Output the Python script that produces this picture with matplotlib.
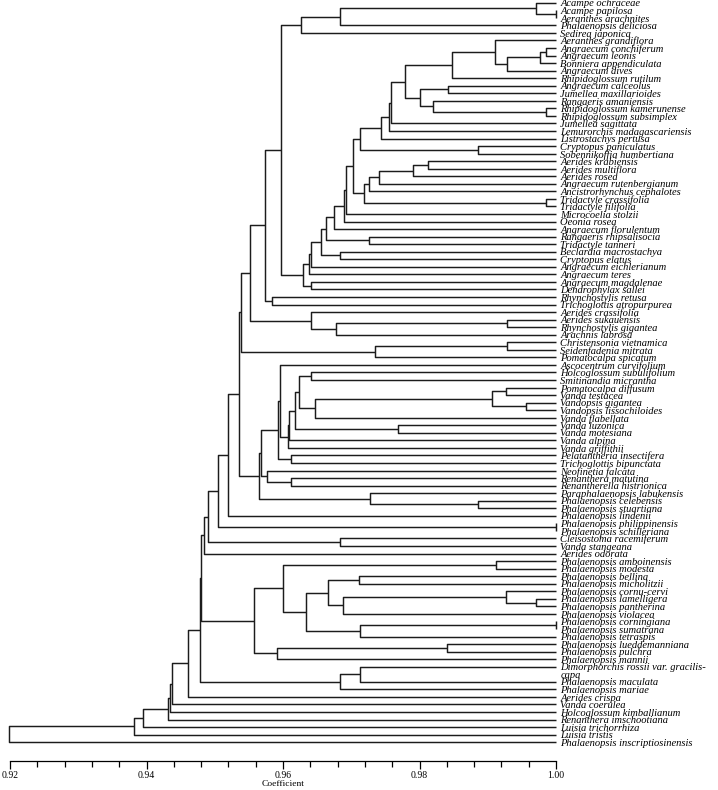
import matplotlib
matplotlib.use('Agg')
import matplotlib.pyplot as plt
import matplotlib.transforms as mtransforms
from matplotlib.ticker import MultipleLocator, FormatStrFormatter

plt.rcParams['font.family'] = ['Liberation Serif', 'DejaVu Serif']

# leaf names, top to bottom (a '\n' wraps the name onto the next row)
species = [
    'Acampe ochraceae', 'Acampe papilosa', 'Aeranthes arachnites', 'Phalaenopsis deliciosa',
    'Sedirea japonica', 'Aeranthes grandiflora', 'Angraecum conchiferum', 'Angraecum leonis',
    'Bonniera appendiculata', 'Angraecum dives', 'Rhipidoglossum rutilum', 'Angraecum calceolus',
    'Jumellea maxillarioides', 'Rangaeris amaniensis', 'Rhipidoglossum kamerunense',
    'Rhipidoglossum subsimplex', 'Jumellea sagittata', 'Lemurorchis madagascariensis',
    'Listrostachys pertusa', 'Cryptopus paniculatus', 'Sobennikoffia humbertiana',
    'Aerides krabiensis', 'Aerides multiflora', 'Aerides rosea', 'Angraecum rutenbergianum',
    'Ancistrorhynchus cephalotes', 'Tridactyle crassifolia', 'Tridactyle filifolia',
    'Microcoelia stolzii', 'Oeonia rosea', 'Angraecum florulentum', 'Rangaeris rhipsalisocia',
    'Tridactyle tanneri', 'Beclardia macrostachya', 'Cryptopus elatus', 'Angraecum eichlerianum',
    'Angraecum teres', 'Angraecum magdalenae', 'Dendrophylax sallei', 'Rhynchostylis retusa',
    'Trichoglottis atropurpurea', 'Aerides crassifolia', 'Aerides sukauensis',
    'Rhynchostylis gigantea', 'Arachnis labrosa', 'Christensonia vietnamica',
    'Seidenfadenia mitrata', 'Pomatocalpa spicatum', 'Ascocentrum curvifolium',
    'Holcoglossum subulifolium', 'Smitinandia micrantha', 'Pomatocalpa diffusum',
    'Vanda testacea', 'Vandopsis gigantea', 'Vandopsis lissochiloides', 'Vanda flabellata',
    'Vanda luzonica', 'Vanda motesiana', 'Vanda alpina', 'Vanda griffithii',
    'Pelatantheria insectifera', 'Trichoglottis bipunctata', 'Neofinetia falcata',
    'Renanthera matutina', 'Renantherella histrionica', 'Paraphalaenopsis labukensis',
    'Phalaenopsis celebensis', 'Phalaenopsis stuartiana', 'Phalaenopsis lindenii',
    'Phalaenopsis philippinensis', 'Phalaenopsis schilleriana', 'Cleisostoma racemiferum',
    'Vanda stangeana', 'Aerides odorata', 'Phalaenopsis amboinensis', 'Phalaenopsis modesta',
    'Phalaenopsis bellina', 'Phalaenopsis micholitzii', 'Phalaenopsis cornu-cervi',
    'Phalaenopsis lamelligera', 'Phalaenopsis pantherina', 'Phalaenopsis violacea',
    'Phalaenopsis corningiana', 'Phalaenopsis sumatrana', 'Phalaenopsis tetraspis',
    'Phalaenopsis lueddemanniana', 'Phalaenopsis pulchra', 'Phalaenopsis mannii',
    'Dimorphorchis rossii var. gracilis-\ncapa', 'Phalaenopsis maculata', 'Phalaenopsis mariae',
    'Aerides crispa', 'Vanda coerulea', 'Holcoglossum kimballianum', 'Renanthera imschootiana',
    'Luisia trichorrhiza', 'Luisia tristis', 'Phalaenopsis inscriptiosinensis',
]

# joins: (new cluster, first member, second member, coefficient)
# numbers are leaves (1 = first species), strings are earlier clusters
merges = [
    ('a', 2, 3, 1.000), ('b', 1, 'a', 0.9970), ('c', 'b', 4, 0.9683), ('d', 'c', 5, 0.9626),
    ('e', 7, 8, 0.9985), ('f', 'e', 9, 0.9977), ('g', 'f', 10, 0.9928), ('h', 6, 'g', 0.9910),
    ('i', 'h', 11, 0.9847), ('j', 12, 13, 0.9842), ('k', 15, 16, 0.9985), ('l', 14, 'k', 0.9820),
    ('m', 'j', 'l', 0.9800), ('n', 'i', 'm', 0.9779), ('o', 'n', 17, 0.9758), ('p', 'o', 18, 0.9755),
    ('q', 'p', 19, 0.9743), ('r', 20, 21, 0.9885), ('s', 'q', 'r', 0.9713), ('t', 22, 23, 0.9813),
    ('u', 't', 24, 0.9791), ('v', 'u', 25, 0.9740), ('w', 'v', 26, 0.9726), ('x', 27, 28, 0.9985),
    ('y', 'w', 'x', 0.9719), ('z', 's', 'y', 0.9702), ('aa', 'z', 29, 0.9693), ('ab', 'aa', 30, 0.9690),
    ('ac', 'ab', 31, 0.9674), ('ad', 32, 33, 0.9726), ('ae', 'ac', 'ad', 0.9663), ('af', 34, 35, 0.9683),
    ('ag', 'ae', 'af', 0.9655), ('ah', 'ag', 36, 0.9641), ('ai', 'ah', 37, 0.9638), ('aj', 38, 39, 0.9641),
    ('ak', 'ai', 'aj', 0.9629), ('al', 'd', 'ak', 0.9597), ('am', 40, 41, 0.9584), ('an', 'al', 'am', 0.9574),
    ('ao', 43, 44, 0.9928), ('ap', 'ao', 45, 0.9677), ('aq', 42, 'ap', 0.9641), ('ar', 'an', 'aq', 0.9552),
    ('as', 46, 47, 0.9928), ('at', 'as', 48, 0.9735), ('au', 'ar', 'at', 0.9539),
    ('av', 50, 51, 0.9641), ('aw', 52, 53, 0.9927), ('ax', 54, 55, 0.9956), ('ay', 'aw', 'ax', 0.9906),
    ('az', 'ay', 56, 0.9647), ('ba', 'av', 'az', 0.9623), ('bb', 57, 58, 0.9769), ('bc', 'ba', 'bb', 0.9618),
    ('bd', 'bc', 59, 0.9609), ('be', 'bd', 60, 0.9607), ('bf', 49, 'be', 0.9595), ('bg', 61, 62, 0.9612),
    ('bh', 'bf', 'bg', 0.9593), ('bi', 64, 65, 0.9612), ('bj', 63, 'bi', 0.9577), ('bk', 'bh', 'bj', 0.9568),
    ('bl', 67, 68, 0.9885), ('bm', 66, 'bl', 0.9727), ('bn', 'bk', 'bm', 0.9565), ('bo', 'au', 'bn', 0.9536),
    ('bp', 'bo', 69, 0.9520), ('bq', 70, 71, 1.000), ('br', 'bp', 'bq', 0.9505), ('bs', 72, 73, 0.9683),
    ('bt', 'br', 'bs', 0.9490), ('bu', 'bt', 74, 0.9484),
    ('bv', 75, 76, 0.9912), ('bw', 77, 78, 0.9712), ('bx', 80, 81, 0.9971), ('by', 79, 'bx', 0.9927),
    ('bz', 'by', 82, 0.9688), ('ca', 'bw', 'bz', 0.9666), ('cb', 83, 84, 1.000), ('cc', 'cb', 85, 0.9713),
    ('cd', 'ca', 'cc', 0.9634), ('ce', 'bv', 'cd', 0.9600), ('cf', 86, 87, 0.9841), ('cg', 'cf', 88, 0.9591),
    ('ch', 'ce', 'cg', 0.9557), ('ci', 'bu', 'ch', 0.9480), ('cj', 89, 90, 0.9713), ('ck', 'cj', 91, 0.9684),
    ('cl', 'ci', 'ck', 0.9478), ('cm', 'cl', 92, 0.9461), ('cn', 'cm', 93, 0.9437), ('co', 'cn', 94, 0.9435),
    ('cp', 'co', 95, 0.9432), ('cq', 'cp', 96, 0.9395), ('cr', 'cq', 97, 0.9382), ('root', 'cr', 98, 0.9198),
]

x_min, x_max = 0.92, 1.00

fig = plt.figure(figsize=(7.18, 7.90), dpi=100)
# rows -0.36 .. 100.5 span the plot height
ax = fig.add_axes([10 / 718, 29 / 790, 546 / 718, 761 / 790])
ax.set_xlim(x_min, x_max)
ax.set_ylim(100.5, -0.36)

# rows of the leaves; a wrapped name uses one more row
rows = []
r = 0
for name in species:
    rows.append(r)
    r += name.count('\n') + 1

pos = {i + 1: (x_max, rows[i]) for i in range(len(species))}
line_kw = dict(color='#1c1c1c', lw=1.05, solid_capstyle='butt', clip_on=False)
for node, a, b, h in merges:
    xa, ya = pos[a]
    xb, yb = pos[b]
    ax.plot([xa, h, h, xb], [ya, ya, yb, yb], **line_kw)
    pos[node] = (h, (ya + yb) / 2)

# leaf names, sitting a hair below their branch
label_tr = mtransforms.offset_copy(ax.transData, fig=fig, x=4.5, y=-1.2, units='dots')
for name, row in zip(species, rows):
    for k, part in enumerate(name.split('\n')):
        ax.text(x_max, row + k, part, transform=label_tr, fontsize=7.6, style='italic',
                va='center', ha='left', clip_on=False)

for side in ['top', 'right', 'left']:
    ax.spines[side].set_visible(False)
ax.spines['bottom'].set_linewidth(0.9)
ax.set_yticks([])
ax.xaxis.set_major_locator(MultipleLocator(0.02))
ax.xaxis.set_minor_locator(MultipleLocator(0.004))
ax.xaxis.set_major_formatter(FormatStrFormatter('%.2f'))
ax.tick_params(axis='x', which='major', direction='out', length=6, width=0.9,
               labelsize=7, pad=1.5)
ax.tick_params(axis='x', which='minor', direction='out', length=4, width=0.9)
ax.set_xlabel('Coefficient', fontsize=6.8, labelpad=-0.5)

fig.savefig('out.png', dpi=100)
